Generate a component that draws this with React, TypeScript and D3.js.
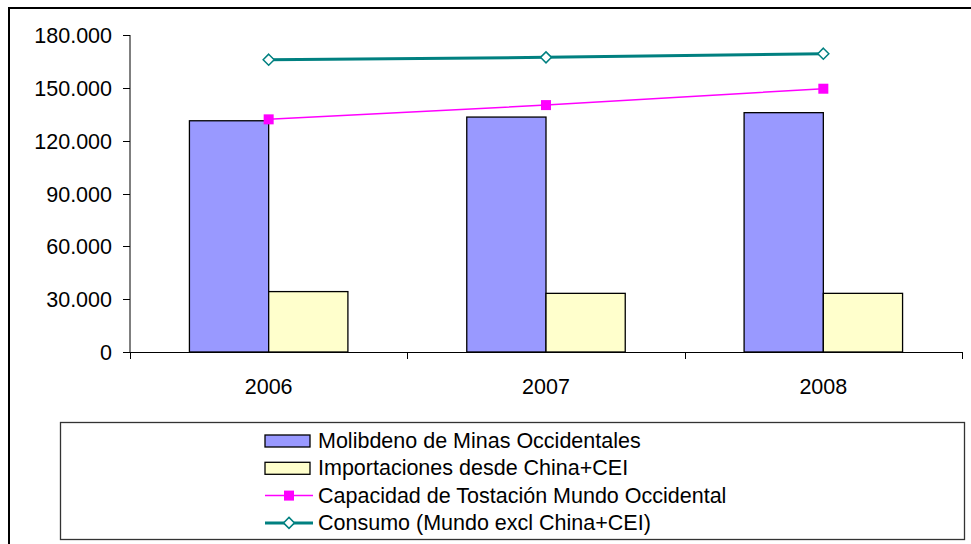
import React, { useEffect, useRef } from 'react';
import * as d3 from 'd3';

const years = ['2006', '2007', '2008'];
const minas = [131300, 133400, 135900];
const importaciones = [34300, 33300, 33300];
const capacidad = [132100, 140200, 149500];
const consumo = [166000, 167300, 169400];
const yTicks = [0, 30000, 60000, 90000, 120000, 150000, 180000];

const legendLabels = [
  'Molibdeno de Minas Occidentales',
  'Importaciones desde China+CEI',
  'Capacidad de Tostación Mundo Occidental',
  'Consumo (Mundo excl China+CEI)',
];

const W = 971;
const H = 544;
const FONT = 'Liberation Sans, Arial, sans-serif';

const fmt = (v: number) => (v === 0 ? '0' : d3.format(',')(v).replace(/,/g, '.'));

const App: React.FC = () => {
  const ref = useRef<SVGSVGElement | null>(null);

  useEffect(() => {
    const svg = d3.select(ref.current);
    svg.selectAll('*').remove();

    const plot = { left: 130, right: 962, top: 35, bottom: 352 };

    const x = d3.scaleBand<string>().domain(years).range([plot.left, plot.right]);
    const y = d3.scaleLinear().domain([0, 180000]).range([plot.bottom, plot.top]);
    const barW = x.bandwidth() / 3.5;

    // outer frame
    svg.append('rect')
      .attr('x', 9).attr('y', 8)
      .attr('width', 990).attr('height', 560)
      .attr('fill', 'white').attr('stroke', '#000').attr('stroke-width', 2);

    // y axis
    const yAxis = svg.append('g');
    yAxis.append('line')
      .attr('x1', plot.left).attr('x2', plot.left)
      .attr('y1', plot.top).attr('y2', plot.bottom)
      .attr('stroke', '#000');
    yAxis.selectAll('line.tick')
      .data(yTicks)
      .enter()
      .append('line')
      .attr('class', 'tick')
      .attr('x1', plot.left - 7).attr('x2', plot.left)
      .attr('y1', d => Math.round(y(d)) + 0.5).attr('y2', d => Math.round(y(d)) + 0.5)
      .attr('stroke', '#000');
    yAxis.selectAll('text')
      .data(yTicks)
      .enter()
      .append('text')
      .attr('x', 112)
      .attr('y', d => y(d) + 8)
      .attr('text-anchor', 'end')
      .attr('font-family', FONT)
      .attr('font-size', '21.5px')
      .attr('fill', '#000')
      .text(d => fmt(d));

    // bars
    const groupW = barW * 2;
    svg.selectAll('rect.minas')
      .data(minas)
      .enter()
      .append('rect')
      .attr('class', 'minas')
      .attr('x', (d, i) => x(years[i])! + x.bandwidth() / 2 - groupW / 2)
      .attr('y', d => y(d))
      .attr('width', barW)
      .attr('height', d => plot.bottom - y(d))
      .attr('fill', '#9999FF')
      .attr('stroke', '#000')
      .attr('stroke-width', 1.3);
    svg.selectAll('rect.imp')
      .data(importaciones)
      .enter()
      .append('rect')
      .attr('class', 'imp')
      .attr('x', (d, i) => x(years[i])! + x.bandwidth() / 2)
      .attr('y', d => y(d))
      .attr('width', barW)
      .attr('height', d => plot.bottom - y(d))
      .attr('fill', '#FFFFCC')
      .attr('stroke', '#000')
      .attr('stroke-width', 1.3);

    // x axis
    const xAxis = svg.append('g');
    xAxis.append('line')
      .attr('x1', plot.left).attr('x2', plot.right)
      .attr('y1', plot.bottom + 0.5).attr('y2', plot.bottom + 0.5)
      .attr('stroke', '#000');
    const bounds = [...years.map(yr => x(yr)!), plot.right];
    xAxis.selectAll('line.tick')
      .data(bounds)
      .enter()
      .append('line')
      .attr('class', 'tick')
      .attr('x1', d => Math.round(d) + 0.5).attr('x2', d => Math.round(d) + 0.5)
      .attr('y1', plot.bottom).attr('y2', plot.bottom + 7)
      .attr('stroke', '#000');
    xAxis.selectAll('text')
      .data(years)
      .enter()
      .append('text')
      .attr('x', d => x(d)! + x.bandwidth() / 2)
      .attr('y', 394)
      .attr('text-anchor', 'middle')
      .attr('font-family', FONT)
      .attr('font-size', '21.5px')
      .attr('fill', '#000')
      .text(d => d);

    // lines
    const cx = (i: number) => x(years[i])! + x.bandwidth() / 2;
    const line = d3.line<number>().x((d, i) => cx(i)).y(d => y(d));

    svg.append('path')
      .attr('d', line(capacidad)!)
      .attr('fill', 'none')
      .attr('stroke', '#FF00FF')
      .attr('stroke-width', 1.5);
    svg.selectAll('rect.cap')
      .data(capacidad)
      .enter()
      .append('rect')
      .attr('class', 'cap')
      .attr('x', (d, i) => cx(i) - 5)
      .attr('y', d => y(d) - 5)
      .attr('width', 10).attr('height', 10)
      .attr('fill', '#FF00FF');

    svg.append('path')
      .attr('d', line(consumo)!)
      .attr('fill', 'none')
      .attr('stroke', '#008080')
      .attr('stroke-width', 3);
    const diamond = (px: number, py: number, r: number) =>
      `M${px},${py - r}L${px + r},${py}L${px},${py + r}L${px - r},${py}Z`;
    svg.selectAll('path.con')
      .data(consumo)
      .enter()
      .append('path')
      .attr('class', 'con')
      .attr('d', (d, i) => diamond(cx(i), y(d), 5.5))
      .attr('fill', 'white')
      .attr('stroke', '#008080')
      .attr('stroke-width', 1.5);

    // legend
    const lg = svg.append('g');
    lg.append('rect')
      .attr('x', 60.5).attr('y', 422.5)
      .attr('width', 904).attr('height', 117)
      .attr('fill', 'white')
      .attr('stroke', '#333')
      .attr('stroke-width', 1.3);
    const rowY = (i: number) => 441 + i * 27.3;
    const symX = 265;
    const symW = 45;

    lg.append('rect')
      .attr('x', symX).attr('y', rowY(0) - 6).attr('width', symW).attr('height', 12)
      .attr('fill', '#9999FF').attr('stroke', '#000').attr('stroke-width', 1.3);
    lg.append('rect')
      .attr('x', symX).attr('y', rowY(1) - 6).attr('width', symW).attr('height', 12)
      .attr('fill', '#FFFFCC').attr('stroke', '#000').attr('stroke-width', 1.3);
    lg.append('line')
      .attr('x1', symX).attr('x2', symX + symW + 3)
      .attr('y1', rowY(2)).attr('y2', rowY(2))
      .attr('stroke', '#FF00FF').attr('stroke-width', 1.5);
    lg.append('rect')
      .attr('x', symX + 24 - 5).attr('y', rowY(2) - 5)
      .attr('width', 10).attr('height', 10)
      .attr('fill', '#FF00FF');
    lg.append('line')
      .attr('x1', symX).attr('x2', symX + symW + 3)
      .attr('y1', rowY(3)).attr('y2', rowY(3))
      .attr('stroke', '#008080').attr('stroke-width', 3);
    lg.append('path')
      .attr('d', diamond(symX + 24, rowY(3), 5.5))
      .attr('fill', 'white')
      .attr('stroke', '#008080')
      .attr('stroke-width', 1.5);

    lg.selectAll('text')
      .data(legendLabels)
      .enter()
      .append('text')
      .attr('x', 318)
      .attr('y', (d, i) => rowY(i) + 7)
      .attr('font-family', FONT)
      .attr('font-size', '21.5px')
      .attr('fill', '#000')
      .text(d => d);
  }, []);

  return (
    <svg
      ref={ref}
      width={W}
      height={H}
      style={{ position: 'absolute', left: 0, top: 0, background: 'white' }}
    />
  );
};

export default App;
